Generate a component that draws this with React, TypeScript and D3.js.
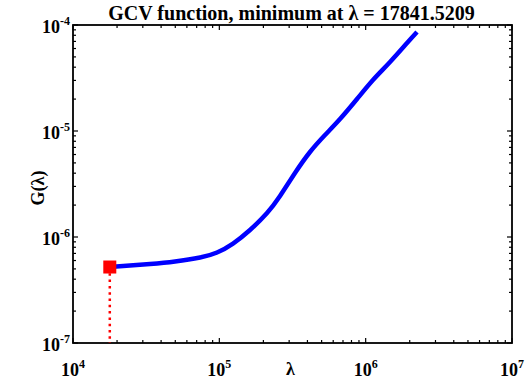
import React, { useEffect, useRef } from "react";
import * as d3 from "d3";

// GCV curve (lambda, G(lambda))
const lambdaVals = [17841.5209, 33590, 49790, 73800, 96400, 124000, 162000, 211800, 259800, 328900, 416500, 527500, 667800, 872600, 1122000, 1467000, 1917000, 2243000];
const gcvVals = [5.21e-7, 5.56e-7, 5.874e-7, 6.405e-7, 7.14e-7, 8.68e-7, 1.164e-6, 1.684e-6, 2.436e-6, 4.016e-6, 6.34e-6, 9.17e-6, 1.297e-5, 2.004e-5, 3.028e-5, 4.477e-5, 6.76e-5, 8.59e-5];
const lambdaMin = 17841.5209;
const gMin = 5.21e-7;
const xTickExps = [4, 5, 6, 7];
const yTickExps = [-4, -5, -6, -7];

const App = () => {
  const svgRef = useRef<SVGSVGElement>(null);
  const width = 525;
  const height = 380;
  const margin = { top: 25, right: 13, bottom: 37, left: 73 };

  useEffect(() => {
    const svg = d3.select(svgRef.current);
    svg.selectAll("*").remove();

    const x = d3.scaleLog().domain([1e4, 1e7]).range([margin.left, width - margin.right]);
    const y = d3.scaleLog().domain([1e-7, 1e-4]).range([height - margin.bottom, margin.top]);
    const x0 = margin.left, x1 = width - margin.right;
    const y0 = height - margin.bottom, y1 = margin.top;
    const font = "'Liberation Serif', 'Times New Roman', serif";

    svg.append("rect").attr("width", width).attr("height", height).attr("fill", "white");

    const isMajor = (v: number) => Math.abs(Math.log10(v) - Math.round(Math.log10(v))) < 1e-9;

    // ticks on all four sides, pointing inward
    const ticks = svg.append("g").attr("stroke", "black").attr("stroke-width", 1.2);
    x.ticks().forEach((v) => {
      const len = isMajor(v) ? 5 : 3;
      ticks.append("line").attr("x1", x(v)).attr("x2", x(v)).attr("y1", y0).attr("y2", y0 - len);
      ticks.append("line").attr("x1", x(v)).attr("x2", x(v)).attr("y1", y1).attr("y2", y1 + len);
    });
    y.ticks().forEach((v) => {
      const len = isMajor(v) ? 5 : 3;
      ticks.append("line").attr("x1", x0).attr("x2", x0 + len).attr("y1", y(v)).attr("y2", y(v));
      ticks.append("line").attr("x1", x1).attr("x2", x1 - len).attr("y1", y(v)).attr("y2", y(v));
    });

    // frame
    svg.append("rect")
      .attr("x", x0).attr("y", y1)
      .attr("width", x1 - x0).attr("height", y0 - y1)
      .attr("fill", "none").attr("stroke", "black").attr("stroke-width", 1.8);

    // x tick labels
    xTickExps.forEach((e) => {
      const t = svg.append("text")
        .attr("x", x(Math.pow(10, e)))
        .attr("y", 376)
        .attr("text-anchor", "middle")
        .attr("font-family", font).attr("font-weight", "bold").attr("font-size", 18);
      t.append("tspan").text("10");
      t.append("tspan").attr("dy", -8).attr("font-size", 12).text(String(e));
    });

    // y tick labels
    yTickExps.forEach((e) => {
      const t = svg.append("text")
        .attr("x", 70)
        .attr("y", y(Math.pow(10, e)) + 8)
        .attr("text-anchor", "end")
        .attr("font-family", font).attr("font-weight", "bold").attr("font-size", 18);
      t.append("tspan").text("10");
      t.append("tspan").attr("dy", -8).attr("font-size", 12).text(String(e));
    });

    // title and axis labels
    svg.append("text")
      .attr("x", (x0 + x1) / 2 - 1).attr("y", 20)
      .attr("text-anchor", "middle")
      .attr("font-family", font).attr("font-weight", "bold").attr("font-size", 20)
      .text("GCV function, minimum at λ = 17841.5209");

    svg.append("text")
      .attr("x", (x0 + x1) / 2 - 2).attr("y", 375)
      .attr("text-anchor", "middle")
      .attr("font-family", font).attr("font-weight", "bold").attr("font-size", 18)
      .text("λ");

    svg.append("text")
      .attr("transform", `translate(44,${(y0 + y1) / 2 + 4}) rotate(-90)`)
      .attr("text-anchor", "middle")
      .attr("font-family", font).attr("font-weight", "bold").attr("font-size", 18)
      .text("G(λ)");

    // GCV curve
    const pts = lambdaVals.map((l, i) => [l, gcvVals[i]] as [number, number]);
    const line = d3.line<[number, number]>()
      .x((d) => x(d[0]))
      .y((d) => y(d[1]))
      .curve(d3.curveNatural);
    svg.append("path")
      .datum(pts)
      .attr("d", line)
      .attr("fill", "none")
      .attr("stroke", "#0000ff")
      .attr("stroke-width", 4.5);

    // minimum marker
    svg.append("line")
      .attr("x1", x(lambdaMin)).attr("x2", x(lambdaMin))
      .attr("y1", y(gMin)).attr("y2", y0)
      .attr("stroke", "#ff0000").attr("stroke-width", 2.5)
      .attr("stroke-dasharray", "2.5,3.8");
    svg.append("rect")
      .attr("x", x(lambdaMin) - 6.5).attr("y", y(gMin) - 6.5)
      .attr("width", 13).attr("height", 13)
      .attr("fill", "#ff0000");
  }, []);

  return (
    <svg
      ref={svgRef}
      width={width}
      height={height}
      style={{ position: "absolute", left: 0, top: 0 }}
    ></svg>
  );
};

export default App;
